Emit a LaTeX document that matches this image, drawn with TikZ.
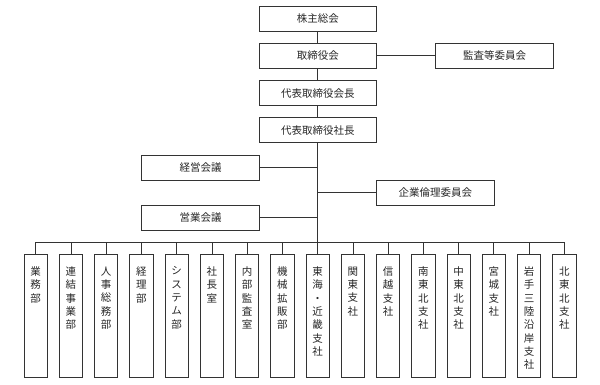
\documentclass[tikz,border=0pt]{standalone}
\usepackage{fontspec}
\newfontfamily\jpfont{Noto Sans CJK JP}
\usetikzlibrary{calc}

\begin{document}
\begin{tikzpicture}[x=1pt,y=-1pt]

    \tikzstyle{hbox}+=[
        draw=black!80,
        line width = 0.8pt,
        minimum width=117.6pt,
        minimum height=25pt,
        inner sep=0pt,
        text=black!85,
        font=\jpfont\fontsize{10.5}{12}\selectfont
    ]
    \tikzstyle{vbox}+=[
        draw=black!80,
        line width = 0.8pt,
        minimum width=23.3pt,
        minimum height=123.7pt,
        inner sep=0pt
    ]
    \tikzstyle{vtext}+=[
        anchor=north,
        align=center,
        inner sep=0pt,
        text=black!85,
        font=\jpfont\fontsize{10.5}{13.3}\selectfont
    ]
    \tikzstyle{conn}+=[
        draw=black!80,
        line width = 0.8pt
    ]

    \useasboundingbox (0,0) rectangle (600,385);

    % ----------------------------------------------------------------------------
    \coordinate(bus) at (317.8,242.3);

    % ----------------------------------------------------------------------------
    \node[hbox] (kabunushi) at (317.8,18.5) {株主総会};
    \node[hbox] (torishimari) at (317.8,55.8) {取締役会};
    \node[hbox] (kansa) at (494.5,55.8) {監査等委員会};
    \node[hbox] (kaicho) at (317.8,93.2) {代表取締役会長};
    \node[hbox] (shacho) at (317.8,130.2) {代表取締役社長};
    \node[hbox] (keiei) at (200.5,167.5) {経営会議};
    \node[hbox] (rinri) at (435.3,192.5) {企業倫理委員会};
    \node[hbox] (eigyo) at (200.5,217.5) {営業会議};

    % ----------------------------------------------------------------------------
    \node[vbox] (b1) at (35.7,315.9) {};
    \node[vbox] (b2) at (70.9,315.9) {};
    \node[vbox] (b3) at (106.2,315.9) {};
    \node[vbox] (b4) at (141.4,315.9) {};
    \node[vbox] (b5) at (176.7,315.9) {};
    \node[vbox] (b6) at (211.9,315.9) {};
    \node[vbox] (b7) at (247.1,315.9) {};
    \node[vbox] (b8) at (282.4,315.9) {};
    \node[vbox] (b9) at (317.6,315.9) {};
    \node[vbox] (b10) at (352.9,315.9) {};
    \node[vbox] (b11) at (388.1,315.9) {};
    \node[vbox] (b12) at (423.3,315.9) {};
    \node[vbox] (b13) at (458.6,315.9) {};
    \node[vbox] (b14) at (493.8,315.9) {};
    \node[vbox] (b15) at (529.1,315.9) {};
    \node[vbox] (b16) at (564.3,315.9) {};

    % ----------------------------------------------------------------------------
    \node[vtext] (t1) at ([yshift=-13pt]b1.north) {業\\務\\部};
    \node[vtext] (t2) at ([yshift=-13pt]b2.north) {連\\結\\事\\業\\部};
    \node[vtext] (t3) at ([yshift=-13pt]b3.north) {人\\事\\総\\務\\部};
    \node[vtext] (t4) at ([yshift=-13pt]b4.north) {経\\理\\部};
    \node[vtext] (t5) at ([yshift=-13pt]b5.north) {シ\\ス\\テ\\ム\\部};
    \node[vtext] (t6) at ([yshift=-13pt]b6.north) {社\\長\\室};
    \node[vtext] (t7) at ([yshift=-13pt]b7.north) {内\\部\\監\\査\\室};
    \node[vtext] (t8) at ([yshift=-13pt]b8.north) {機\\械\\拡\\販\\部};
    \node[vtext] (t9) at ([yshift=-13pt]b9.north) {東\\海\\・\\近\\畿\\支\\社};
    \node[vtext] (t10) at ([yshift=-13pt]b10.north) {関\\東\\支\\社};
    \node[vtext] (t11) at ([yshift=-13pt]b11.north) {信\\越\\支\\社};
    \node[vtext] (t12) at ([yshift=-13pt]b12.north) {南\\東\\北\\支\\社};
    \node[vtext] (t13) at ([yshift=-13pt]b13.north) {中\\東\\北\\支\\社};
    \node[vtext] (t14) at ([yshift=-13pt]b14.north) {宮\\城\\支\\社};
    \node[vtext] (t15) at ([yshift=-13pt]b15.north) {岩\\手\\三\\陸\\沿\\岸\\支\\社};
    \node[vtext] (t16) at ([yshift=-13pt]b16.north) {北\\東\\北\\支\\社};

    % ----------------------------------------------------------------------------
    \draw[conn] (kabunushi) -- (torishimari);
    \draw[conn] (torishimari) -- (kaicho);
    \draw[conn] (kaicho) -- (shacho);
    \draw[conn] (torishimari) -- (kansa);
    \draw[conn] (shacho.south) -- (bus);
    \draw[conn] (keiei.east) -- (keiei.east -| bus);
    \draw[conn] (eigyo.east) -- (eigyo.east -| bus);
    \draw[conn] (rinri.west) -- (rinri.west -| bus);
    \draw[conn] (b1.north |- bus) -- (b16.north |- bus);

    % ----------------------------------------------------------------------------
    \draw[conn] (bus -| b1.north) -- (b1.north);
    \draw[conn] (bus -| b2.north) -- (b2.north);
    \draw[conn] (bus -| b3.north) -- (b3.north);
    \draw[conn] (bus -| b4.north) -- (b4.north);
    \draw[conn] (bus -| b5.north) -- (b5.north);
    \draw[conn] (bus -| b6.north) -- (b6.north);
    \draw[conn] (bus -| b7.north) -- (b7.north);
    \draw[conn] (bus -| b8.north) -- (b8.north);
    \draw[conn] (bus -| b9.north) -- (b9.north);
    \draw[conn] (bus -| b10.north) -- (b10.north);
    \draw[conn] (bus -| b11.north) -- (b11.north);
    \draw[conn] (bus -| b12.north) -- (b12.north);
    \draw[conn] (bus -| b13.north) -- (b13.north);
    \draw[conn] (bus -| b14.north) -- (b14.north);
    \draw[conn] (bus -| b15.north) -- (b15.north);
    \draw[conn] (bus -| b16.north) -- (b16.north);

\end{tikzpicture}
\end{document}
